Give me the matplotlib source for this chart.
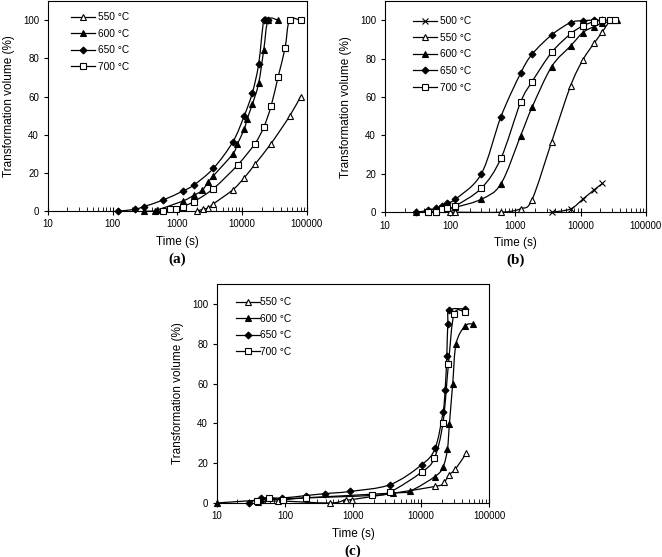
import numpy as np
import matplotlib
matplotlib.use('Agg')
import matplotlib.pyplot as plt
from matplotlib.path import Path
from matplotlib.patches import PathPatch
from matplotlib.lines import Line2D
from matplotlib.ticker import LogLocator, FuncFormatter, NullFormatter

plt.rcParams['font.family'] = ['Liberation Sans', 'DejaVu Sans']

# ---- data (time in s, transformation volume in %) ----
a_t_550 = [2000, 2500, 3000, 3600, 7200, 10800, 16000, 28000, 54000, 80000]
a_v_550 = [0, 1, 1.7, 3.8, 11.2, 17.5, 24.8, 35.4, 49.7, 60]
a_t_600 = [300, 450, 480, 1200, 1800, 2400, 3000, 3600, 7200, 8400, 10800, 12000, 14400, 18000, 21600, 25200, 36000]
a_v_600 = [0, 0, 0.5, 5.2, 8.3, 10.8, 15.3, 18.5, 30, 35, 43, 48.5, 56, 67, 84.5, 100, 100]
a_t_650 = [120, 220, 300, 600, 1200, 1800, 3600, 7200, 10800, 14400, 18000, 21600, 25200]
a_v_650 = [0, 0.9, 2.3, 5.8, 10.4, 13.7, 22.4, 36.3, 50, 62, 77, 100, 100]
a_t_700 = [600, 780, 960, 1200, 1800, 3600, 8600, 15800, 21600, 28000, 36000, 46000, 54000, 80000]
a_v_700 = [0, 1, 1, 2.3, 5, 11.8, 24.3, 35.4, 44, 55, 70.4, 85.3, 100, 100]

b_t_500 = [3600, 7000, 10800, 16000, 21600]
b_v_500 = [0, 1.7, 6.8, 11.6, 15]
b_t_550 = [60, 100, 120, 600, 1200, 1800, 3600, 7000, 10800, 16000, 21600, 28000]
b_v_550 = [0, 0, 0, 0, 1.8, 6.6, 36.8, 65.8, 79.3, 88, 94, 100]
b_t_600 = [30, 45, 60, 120, 300, 600, 1200, 1800, 3600, 7000, 10800, 16000, 21600, 36000]
b_v_600 = [0, 0, 0.5, 2.6, 6.8, 14.8, 39.8, 54.7, 75.9, 86.6, 93.6, 96.7, 98.5, 100]
b_t_650 = [30, 45, 60, 75, 90, 120, 300, 600, 1200, 1800, 3600, 7000, 10800, 16000, 21600]
b_v_650 = [0, 0.9, 2, 3, 5, 6.8, 20, 49.8, 72.4, 82.3, 92.4, 98.8, 99.8, 100, 100]
b_t_700 = [45, 60, 75, 90, 120, 300, 600, 1200, 1800, 3600, 7000, 10800, 16000, 21600, 28000, 34000]
b_v_700 = [0, 0, 1.5, 2, 3.3, 12.5, 28.1, 57.3, 68, 83.3, 92.9, 97.1, 99.3, 100, 100, 100]

c_t_550 = [40, 80, 460, 800, 960, 16000, 21600, 26000, 32000, 46000]
c_v_550 = [0.5, 1, 0, 1.7, 1.7, 8.3, 10.3, 14.2, 17, 25]
c_t_600 = [10, 45, 90, 3900, 6900, 16000, 21000, 24400, 26100, 29200, 32700, 44500, 59000]
c_v_600 = [0, 1.5, 2, 5, 6, 13.3, 18, 27, 39.7, 60, 80, 89, 90]
c_t_650 = [30, 44, 90, 200, 390, 900, 3500, 10200, 16100, 21000, 22600, 23900, 24700, 26100, 45000]
c_v_650 = [0, 2.5, 2.5, 3.7, 4.7, 5.8, 9.2, 19.2, 27.5, 45.5, 57, 74, 90, 97, 97.5]
c_t_700 = [39, 59, 93, 200, 1900, 3500, 10200, 15700, 21000, 25300, 30600, 44500]
c_v_700 = [0.8, 2.5, 1.7, 2.5, 3.8, 5.5, 15.5, 22.5, 40.3, 70, 95, 95.8]

styles = {
    '500': dict(marker='x', mfc='k', ms=5),
    '550': dict(marker='^', mfc='w', ms=4.5),
    '600': dict(marker='^', mfc='k', ms=4.5),
    '650': dict(marker='D', mfc='k', ms=3.5),
    '700': dict(marker='s', mfc='w', ms=4),
}


def smooth(ax, t, v):
    # Excel-like smoothed line: cubic Bezier through the points in (log t, v) space
    lx = np.log10(t)
    y = np.asarray(v, float)
    n = len(lx)
    verts = [(lx[0], y[0])]
    codes = [Path.MOVETO]
    for i in range(n - 1):
        p0 = max(i - 1, 0)
        p3 = min(i + 2, n - 1)
        c1 = (lx[i] + (lx[i + 1] - lx[p0]) / 6, y[i] + (y[i + 1] - y[p0]) / 6)
        c2 = (lx[i + 1] - (lx[p3] - lx[i]) / 6, y[i + 1] - (y[p3] - y[i]) / 6)
        verts += [c1, c2, (lx[i + 1], y[i + 1])]
        codes += [Path.CURVE4] * 3
    verts = np.array(verts)
    verts[:, 0] = 10 ** verts[:, 0]
    ax.add_patch(PathPatch(Path(verts, codes), facecolor='none', edgecolor='k', lw=0.9, zorder=2))


def panel(ax, series, tag, anchor, handletextpad):
    handles = []
    for name, t, v in series:
        st = styles[name]
        smooth(ax, t, v)
        ax.plot(t, v, linestyle='none', marker=st['marker'], ms=st['ms'], mfc=st['mfc'],
                mec='k', mew=0.8, zorder=3, clip_on=False)
        handles.append(Line2D([], [], color='k', lw=0.9, marker=st['marker'], ms=st['ms'],
                              mfc=st['mfc'], mec='k', mew=0.8, label=name + ' \u00b0C'))
    ax.set_xscale('log')
    ax.set_xlim(10, 100000)
    ax.set_ylim(0, 110)
    ax.set_yticks([0, 20, 40, 60, 80, 100])
    ax.xaxis.set_major_locator(LogLocator(base=10))
    ax.xaxis.set_minor_locator(LogLocator(base=10, subs=np.arange(2, 10)))
    ax.xaxis.set_major_formatter(FuncFormatter(lambda x, p: '%d' % round(x)))
    ax.xaxis.set_minor_formatter(NullFormatter())
    ax.tick_params(axis='x', which='major', direction='inout', length=6, width=0.8, labelsize=7, pad=3)
    ax.tick_params(axis='x', which='minor', direction='in', length=3, width=0.6)
    ax.tick_params(axis='y', direction='out', length=3, width=0.8, labelsize=7)
    for s in ax.spines.values():
        s.set_linewidth(0.8)
    ax.set_xlabel('Time (s)', fontsize=8.5, labelpad=5)
    ax.set_ylabel('Transformation volume (%)', fontsize=8.5, labelpad=6)
    ax.legend(handles=handles, loc='upper left', frameon=False, fontsize=7.3,
              handlelength=2.35, handletextpad=handletextpad, labelspacing=0.65,
              borderaxespad=0, bbox_to_anchor=anchor)
    ax.annotate(tag, xy=(0.5, 0), xycoords='axes fraction', xytext=(0, -48),
                textcoords='offset pixels', ha='center', va='center',
                fontsize=11, fontweight='bold', family='Liberation Serif')


fig = plt.figure(figsize=(6.62, 5.57), dpi=100)
ax_a = fig.add_axes([0.0725, 0.621, 0.391, 0.377])
ax_b = fig.add_axes([0.5816, 0.619, 0.394, 0.379])
ax_c = fig.add_axes([0.3278, 0.097, 0.411, 0.393])

panel(ax_a, [('550', a_t_550, a_v_550), ('600', a_t_600, a_v_600),
             ('650', a_t_650, a_v_650), ('700', a_t_700, a_v_700)], '(a)', (0.073, 0.967), 0.3)
panel(ax_b, [('500', b_t_500, b_v_500), ('550', b_t_550, b_v_550), ('600', b_t_600, b_v_600),
             ('650', b_t_650, b_v_650), ('700', b_t_700, b_v_700)], '(b)', (0.092, 0.948), 0.3)
panel(ax_c, [('550', c_t_550, c_v_550), ('600', c_t_600, c_v_600),
             ('650', c_t_650, c_v_650), ('700', c_t_700, c_v_700)], '(c)', (0.055, 0.959), 0.0)

fig.savefig('out.png', dpi=100)
